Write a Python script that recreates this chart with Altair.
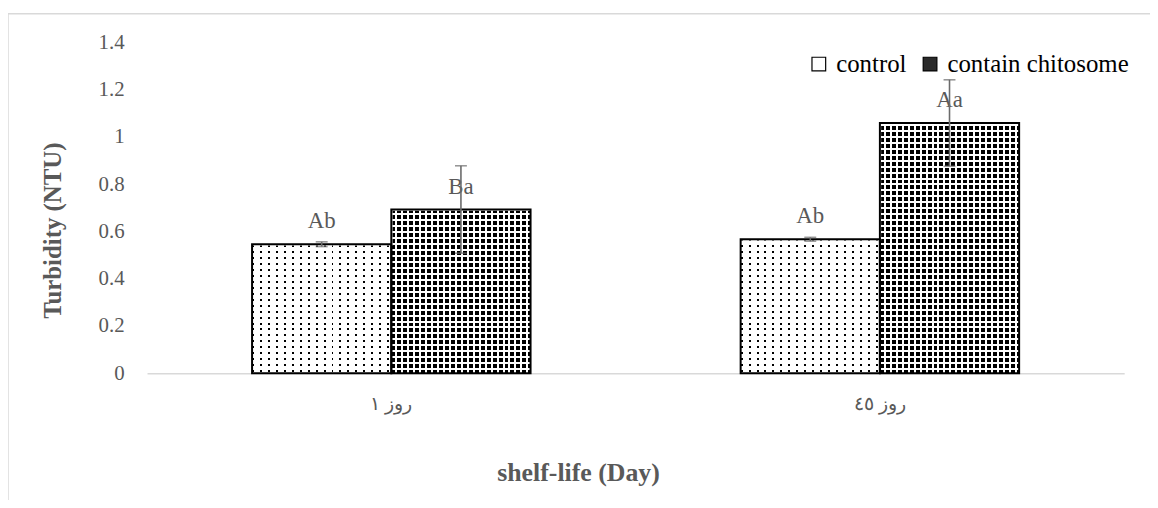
import altair as alt
import pandas as pd

# ---------------- data ----------------
days = ["روز ١", "روز ٤٥"]
series = ["control", "contain chitosome"]
control_vals = [0.546, 0.567]
chitosome_vals = [0.693, 1.059]
control_err = [0.010, 0.008]
chitosome_err = [0.185, 0.183]
control_letters = ["Ab", "Ab"]
chitosome_letters = ["Ba", "Aa"]
y_ticks = [0, 0.2, 0.4, 0.6, 0.8, 1, 1.2, 1.4]
Y_MAX = 1.4

rows = []
for i, d in enumerate(days):
    rows.append(dict(day=d, series=series[0], value=control_vals[i],
                     err=control_err[i], letter=control_letters[i]))
    rows.append(dict(day=d, series=series[1], value=chitosome_vals[i],
                     err=chitosome_err[i], letter=chitosome_letters[i]))
df = pd.DataFrame(rows)
df["lo"] = df["value"] - df["err"]
df["hi"] = df["value"] + df["err"]

# ---------------- layout ----------------
W, H = 984, 333
P_INNER, P_OUTER = 0.43, 0.215
STEP = W / (len(days) - P_INNER + 2 * P_OUTER)
BAR_W = STEP * (1 - P_INNER) / len(series)

FONT = "Liberation Serif"
GRAY = "#595959"
CLEAR = "rgba(255,255,255,0)"


def stripes(length_px, period, dot, along_y):
    """white stripes with transparent gaps (gap width = dot)"""
    stops = []
    k = 0
    while k * period < length_px:
        a = min(k * period / length_px, 1)
        b = min((k * period + dot) / length_px, 1)
        c = min((k + 1) * period / length_px, 1)
        stops += [{"offset": a, "color": CLEAR}, {"offset": b, "color": CLEAR},
                  {"offset": b, "color": "white"}, {"offset": c, "color": "white"}]
        k += 1
    g = {"gradient": "linear", "stops": stops, "x1": 0, "y1": 0}
    if along_y:
        g.update({"x2": 0, "y2": 1})
    else:
        g.update({"x2": 1, "y2": 0})
    return g


patterns = {
    "control": dict(px=8, py=6, d=2),
    "contain chitosome": dict(px=6, py=6, d=4),
}

x_enc = alt.X("day:N", sort=days,
              scale=alt.Scale(paddingInner=P_INNER, paddingOuter=P_OUTER),
              axis=alt.Axis(title="shelf-life (Day)", labelAngle=0, ticks=False,
                            domainColor="#d9d9d9", domainWidth=1.5,
                            labelFont=FONT, labelFontSize=19, labelColor=GRAY,
                            labelPadding=22,
                            titleFont=FONT, titleFontSize=26, titleFontWeight="bold",
                            titleColor=GRAY, titleX=434, titleY=100,
                            titleBaseline="middle"))
xo_enc = alt.XOffset("series:N", sort=series,
                     scale=alt.Scale(paddingInner=0, paddingOuter=0))
y_enc = alt.Y("value:Q", scale=alt.Scale(domain=[0, Y_MAX], nice=False),
              axis=alt.Axis(values=y_ticks, format="~g", title="Turbidity (NTU)",
                            domain=False, ticks=False, grid=False,
                            labelFont=FONT, labelFontSize=21, labelColor=GRAY,
                            labelPadding=23,
                            titleFont=FONT, titleFontSize=25, titleFontWeight="bold",
                            titleColor=GRAY, titleX=-95, titleY=189, titleAngle=-90,
                            titleBaseline="middle", titleAlign="center"))

base = alt.Chart(df).encode(x=x_enc, xOffset=xo_enc)

layers = []
for s in series:
    p = patterns[s]
    sub = base.transform_filter(alt.datum.series == s)
    full = dict(y=alt.Y(datum=Y_MAX, scale=alt.Scale(domain=[0, Y_MAX], nice=False)),
                y2=alt.datum(0))
    layers.append(sub.mark_bar(fill="black", strokeWidth=0).encode(**full))
    layers.append(sub.mark_bar(fill=stripes(H, p["py"], p["d"], True),
                               strokeWidth=0).encode(**full))
    layers.append(sub.mark_bar(fill=stripes(BAR_W, p["px"], p["d"], False),
                               strokeWidth=0).encode(**full))

# white mask above each bar's value
mask = base.mark_bar(fill="white", stroke="white", strokeWidth=2.5).encode(
    y=y_enc, y2=alt.datum(Y_MAX))
outline = base.mark_bar(fillOpacity=0, stroke="black", strokeWidth=2).encode(
    y=y_enc, y2=alt.datum(0))

legend_layer = base.mark_square(opacity=0).encode(
    y=y_enc,
    color=alt.Color("series:N", sort=series,
                    scale=alt.Scale(domain=series, range=["white", "#2a2a2a"]),
                    legend=alt.Legend(title=None, orient="none", legendX=664, legendY=9,
                                      direction="horizontal", symbolType="square",
                                      symbolSize=190, symbolOpacity=1,
                                      symbolStrokeColor="black", symbolStrokeWidth=1.2,
                                      labelFont=FONT, labelFontSize=25, labelColor="black",
                                      labelLimit=400, labelOffset=5, columnPadding=11)))

letters = base.mark_text(dy=-23, font=FONT, fontSize=23, color=GRAY,
                         baseline="middle").encode(y=y_enc, text="letter:N")
err_line = base.mark_rule(color="#6b6b6b", strokeWidth=1.6).encode(
    y="lo:Q", y2="hi:Q")
cap_hi = base.mark_tick(color="#6b6b6b", thickness=1.6, size=12).encode(y="hi:Q")
cap_lo = base.mark_tick(color="#6b6b6b", thickness=1.6, size=12).encode(y="lo:Q")

frame_src = alt.Chart(pd.DataFrame({"k": [0]}))
frame_left = frame_src.mark_rule(color="#d9d9d9", strokeWidth=1.5).encode(
    x=alt.value(-140), y=alt.value(-29), y2=alt.value(H + 200))
frame_top = frame_src.mark_rule(color="#d9d9d9", strokeWidth=1.5).encode(
    x=alt.value(-140), x2=alt.value(W + 200), y=alt.value(-29))

chart = alt.layer(
    outline.mark_bar(fillOpacity=0, strokeWidth=0),
    *layers, mask, outline, legend_layer, letters, err_line, cap_hi, cap_lo,
    frame_left, frame_top
).properties(
    width=W, height=H,
    autosize=alt.AutoSizeParams(type="none"),
    padding={"left": 140, "top": 33, "right": 26, "bottom": 126},
).configure(font=FONT).configure_view(stroke=None).configure_axis(
    labelFont=FONT, titleFont=FONT, grid=False
).configure_legend(labelFont=FONT)

chart.save("out.html", embed_options={"renderer": "svg", "actions": False})
